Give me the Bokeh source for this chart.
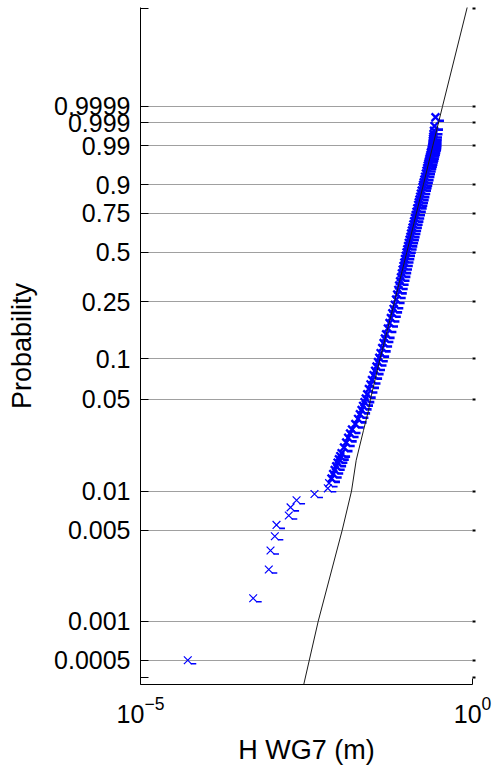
import numpy as np
from bokeh.plotting import figure
from bokeh.models import FixedTicker, LinearAxis, LogTickFormatter, Range1d, ColumnDataSource
from bokeh.embed import file_html
from bokeh.resources import INLINE

# ---- data: sorted wave heights (m) and their plotting probabilities ----
prob = [0.0005, 0.0015, 0.0025, 0.0035, 0.0045, 0.0055, 0.0065, 0.0075, 0.0085, 0.0095,
        0.0105, 0.0115, 0.0125, 0.0135, 0.0145, 0.0155, 0.0165, 0.0175, 0.0185, 0.0195,
        0.0215, 0.0235, 0.0255, 0.0275, 0.0295, 0.0325, 0.0355, 0.0385, 0.0415, 0.0445,
        0.0475, 0.0505, 0.0545, 0.0595, 0.0645, 0.0695, 0.0755, 0.0815, 0.0875, 0.0945,
        0.1015, 0.1095, 0.1195, 0.1295, 0.1395, 0.1495, 0.1645, 0.1795, 0.1945, 0.2095,
        0.2245, 0.2395, 0.2595, 0.2795, 0.2995, 0.3195, 0.3395, 0.3595, 0.3795, 0.3995,
        0.4195, 0.4395, 0.4595, 0.4795, 0.4995, 0.5195, 0.5395, 0.5595, 0.5795, 0.5995,
        0.6195, 0.6395, 0.6595, 0.6795, 0.6995, 0.7195, 0.7395, 0.7595, 0.7795, 0.7995,
        0.8145, 0.8295, 0.8445, 0.8595, 0.8745, 0.8895, 0.8995, 0.9095, 0.9195, 0.9295,
        0.9395, 0.9475, 0.9545, 0.9605, 0.9655, 0.9695, 0.9735, 0.9765, 0.9795, 0.9825,
        0.9845, 0.9865, 0.9885, 0.9895, 0.9905, 0.9915, 0.9925, 0.9935, 0.9945, 0.9955,
        0.9965, 0.9975, 0.9985, 0.9995]
h_wg7 = [5.15e-5, 4.98e-4, 8.55e-4, 9.08e-4, 1.054e-3, 1.117e-3, 1.71e-3, 1.82e-3, 2.24e-3, 4.17e-3,
         6.62e-3, 6.92e-3, 7.52e-3, 7.98e-3, 8.41e-3, 8.86e-3, 9.30e-3, 9.72e-3, 1.021e-2, 1.068e-2,
         1.161e-2, 1.253e-2, 1.343e-2, 1.434e-2, 1.532e-2, 1.718e-2, 1.893e-2, 2.015e-2, 2.137e-2, 2.251e-2,
         2.363e-2, 2.472e-2, 2.595e-2, 2.753e-2, 2.909e-2, 3.064e-2, 3.239e-2, 3.413e-2, 3.583e-2, 3.774e-2,
         3.947e-2, 4.129e-2, 4.365e-2, 4.582e-2, 4.793e-2, 4.996e-2, 5.317e-2, 5.623e-2, 5.902e-2, 6.196e-2,
         6.482e-2, 6.758e-2, 7.068e-2, 7.343e-2, 7.629e-2, 7.870e-2, 8.121e-2, 8.378e-2, 8.644e-2, 8.887e-2,
         9.137e-2, 9.394e-2, 9.625e-2, 9.895e-2, 0.1014, 0.1042, 0.1072, 0.1098, 0.1129, 0.1161,
         0.1189, 0.1223, 0.1253, 0.1288, 0.1320, 0.1357, 0.1395, 0.1434, 0.1475, 0.1521,
         0.1553, 0.1591, 0.1630, 0.1670, 0.1718, 0.1766, 0.1803, 0.1841, 0.1886, 0.1932,
         0.1987, 0.2029, 0.2078, 0.2122, 0.2167, 0.2205, 0.2243, 0.2283, 0.2323, 0.2363,
         0.2404, 0.2438, 0.2480, 0.2506, 0.2515, 0.2524, 0.2533, 0.2541, 0.2550, 0.2568,
         0.2586, 0.2631, 0.2677, 0.2771]

# reference distribution line: height (m) and exceedance probability (1 - P)
line_h = [2.77e-3, 4.75e-3, 1.09e-2, 1.506e-2, 1.772e-2, 2.283e-2, 2.715e-2, 2.909e-2,
          4.058e-2, 6.687e-2, 0.1024, 0.1429, 0.1822, 0.2532, 0.3533, 0.88]
line_exceed = [0.9997, 0.999, 0.995, 0.99, 0.9828, 0.9709, 0.9588, 0.95,
               0.90, 0.75, 0.5, 0.25, 0.10, 0.01, 1e-4, 1e-26]

prob_ticks = [0.0005, 0.001, 0.005, 0.01, 0.05, 0.1, 0.25, 0.5, 0.75, 0.9, 0.99, 0.999, 0.9999]
prob_tick_labels = ["0.0005", "0.001", "0.005", "0.01", "0.05", "0.1", "0.25", "0.5",
                    "0.75", "0.9", "0.99", "0.999", "0.9999"]
x_ticks = [1e-5, 1.0]


def wbl(p):
    """Weibull probability-paper transform of cumulative probability."""
    return np.log(-np.log1p(-np.asarray(p, dtype=float)))


def wbl_exceed(q):
    return np.log(-np.log(np.asarray(q, dtype=float)))


FONT = "Liberation Sans"
X0, X1 = 1e-5, 1.0
Y0, Y1 = -8.03, 3.975
FW, FH = 332, 677

p = figure(width=494, height=771, output_backend="svg", toolbar_location=None,
           x_axis_type="log", x_range=Range1d(X0, X1), y_range=Range1d(Y0, Y1),
           min_border_left=140, min_border_right=22, min_border_top=7, min_border_bottom=87)
p.outline_line_color = None
p.background_fill_color = "white"

y_tick_vals = [float(v) for v in wbl(prob_ticks)]
extra = [-7.905, 3.965]
ax_ticks = extra[:1] + y_tick_vals + extra[1:]
overrides = {v: lab for v, lab in zip(y_tick_vals, prob_tick_labels)}
overrides[extra[0]] = ""
overrides[extra[1]] = ""

# grid
p.ygrid.ticker = FixedTicker(ticks=y_tick_vals)
p.ygrid.grid_line_color = "#a0a0a0"
p.ygrid.grid_line_width = 1
p.xgrid.ticker = FixedTicker(ticks=x_ticks)
p.xgrid.grid_line_color = "#a0a0a0"

# left axis
ya = p.yaxis[0]
ya.ticker = FixedTicker(ticks=ax_ticks)
ya.major_label_overrides = overrides
ya.major_tick_in = 8
ya.major_tick_out = 0
ya.minor_tick_line_color = None
ya.major_label_standoff = 10
ya.major_label_text_font = FONT
ya.major_label_text_font_size = "25px"
ya.major_label_text_color = "black"
ya.axis_label = "Probability"
ya.axis_label_text_font = FONT
ya.axis_label_text_font_size = "27px"
ya.axis_label_text_font_style = "normal"
ya.axis_label_text_color = "black"
ya.axis_label_standoff = 14
ya.axis_line_color = "black"

# right axis (ticks only)
ra = LinearAxis(ticker=FixedTicker(ticks=ax_ticks), major_label_text_font_size="0px",
                major_tick_in=0, major_tick_out=3, major_tick_line_width=2,
                minor_tick_line_color=None, axis_line_color=None)
ra.major_label_overrides = {v: "" for v in ax_ticks}
p.add_layout(ra, "right")

# bottom axis
xa = p.xaxis[0]
xa.ticker = FixedTicker(ticks=x_ticks)
xa.formatter = LogTickFormatter()
xa.major_tick_in = 6
xa.major_tick_out = 0
xa.minor_tick_line_color = None
xa.major_label_standoff = 11
xa.major_label_text_font = FONT
xa.major_label_text_font_size = "25px"
xa.major_label_text_color = "black"
xa.axis_label = "H WG7 (m)"
xa.axis_label_text_font = FONT
xa.axis_label_text_font_size = "27px"
xa.axis_label_text_font_style = "normal"
xa.axis_label_text_color = "black"
xa.axis_label_standoff = 9
xa.axis_line_color = "black"

# glyphs
xs = np.asarray(h_wg7)
ys = wbl(prob)
# stroke weight: isolated tail markers thin, the densely packed band heavier
dense = np.asarray(prob) > 0.012
mk_w = np.where(dense, 2.4, 1.2)
dash_w = np.where(dense, 2.6, 1.6)
# small dash drawn beside each marker, as in the original export
ppd = FW / np.log10(X1 / X0)
ppt = FH / (Y1 - Y0)
seg = ColumnDataSource(dict(x0=xs * 10 ** (3 / ppd), x1=xs * 10 ** (8.5 / ppd),
                            y=ys - 3.5 / ppt, w=dash_w))
p.segment(x0="x0", x1="x1", y0="y", y1="y", source=seg, line_color="#0000ff", line_width="w")
pts = ColumnDataSource(dict(x=xs, y=ys, w=mk_w))
p.scatter("x", "y", source=pts, marker="x", size=11, line_color="#0000ff", line_width="w")

# reference line drawn over the markers
line_src = ColumnDataSource(dict(x=line_h, y=wbl_exceed(line_exceed)))
p.line("x", "y", source=line_src, line_color="#1a1a1a", line_width=1)

open("out.html", "w").write(file_html(p, INLINE))
